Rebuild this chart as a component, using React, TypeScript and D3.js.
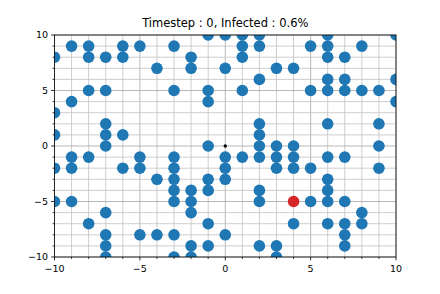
import * as d3 from "d3";
import React from "react";

// grid positions of the healthy population (blue)
const healthy: [number, number][] = [
  [-1, 10], [-9, 9], [-8, 9], [-6, 9], [-5, 9], [-3, 9], [-10, 8], [-8, 8], [-7, 8], [-6, 8], [-2, 8],
  [-4, 7], [-2, 7], [-8, 5], [-7, 5], [-3, 5], [-1, 5], [-9, 4], [-1, 4], [-10, 3], [-7, 2],
  [-10, 1], [-7, 1], [-6, 1],
  [0, 10], [1, 10], [2, 10], [6, 10], [10, 10], [1, 9], [2, 9], [5, 9], [6, 9], [8, 9],
  [1, 8], [6, 8], [7, 8], [0, 7], [3, 7], [4, 7], [2, 6], [6, 6], [7, 6], [10, 6],
  [1, 5], [5, 5], [6, 5], [7, 5], [8, 5], [9, 5], [10, 4], [2, 2], [6, 2], [9, 2], [2, 1],
  [-7, 0], [-1, 0], [-9, -1], [-8, -1], [-5, -1], [-3, -1], [-10, -2], [-9, -2], [-6, -2], [-5, -2],
  [-3, -2], [-4, -3], [-3, -3], [-1, -3], [-3, -4], [-2, -4], [-1, -4], [-10, -5], [-9, -5],
  [-3, -5], [-2, -5], [-7, -6], [-2, -6], [-8, -7], [-1, -7], [-7, -8], [-5, -8], [-4, -8],
  [-3, -8], [-7, -9], [-2, -9], [-1, -9], [-7, -10], [-3, -10], [-2, -10],
  [2, 0], [3, 0], [4, 0], [9, 0], [0, -1], [1, -1], [2, -1], [3, -1], [4, -1], [6, -1], [7, -1],
  [0, -2], [3, -2], [4, -2], [5, -2], [9, -2], [0, -3], [6, -3], [2, -4], [6, -4], [2, -5],
  [5, -5], [6, -5], [7, -5], [8, -6], [4, -7], [6, -7], [7, -7], [8, -7], [0, -8], [7, -8],
  [2, -9], [3, -9], [7, -9], [3, -10],
];
const infected: [number, number][] = [[4, -5]];
const origin: [number, number][] = [[0, 0]];

const majorTicks = [-10, -5, 0, 5, 10];
const minorTicks = d3.range(-10, 11);
const title = "Timestep : 0, Infected : 0.6%";

const W = 440;
const H = 294;
const left = 54.5, right = 396, top = 35, bottom = 257;
const font = "DejaVu Sans, sans-serif";

export default function App() {
  const x = d3.scaleLinear().domain([-10, 10]).range([left, right]);
  const y = d3.scaleLinear().domain([-10, 10]).range([bottom, top]);
  const fmt = (v: number) => (v < 0 ? "\u2212" + Math.abs(v) : String(v));
  const isMajor = (t: number) => majorTicks.includes(t);

  return (
    <svg width={W} height={H} style={{ position: "absolute", left: 0, top: 0 }}>
      <rect width={W} height={H} fill="#fff" />
      <defs>
        <clipPath id="plot">
          <rect x={left} y={top} width={right - left} height={bottom - top} />
        </clipPath>
      </defs>
      {/* grid: minor lighter, major a bit darker */}
      <g strokeWidth={0.8}>
        {minorTicks.map((t) => (
          <line key={"gx" + t} x1={x(t)} x2={x(t)} y1={top} y2={bottom} stroke={isMajor(t) ? "#a6a6a6" : "#c2c2c2"} />
        ))}
        {minorTicks.map((t) => (
          <line key={"gy" + t} x1={left} x2={right} y1={y(t)} y2={y(t)} stroke={isMajor(t) ? "#a6a6a6" : "#c2c2c2"} />
        ))}
      </g>
      {/* points */}
      <g clipPath="url(#plot)">
        {healthy.map((d, i) => (
          <circle key={"h" + i} cx={x(d[0])} cy={y(d[1])} r={5.8} fill="#1f77b4" />
        ))}
        {infected.map((d, i) => (
          <circle key={"i" + i} cx={x(d[0])} cy={y(d[1])} r={5.8} fill="#d62728" />
        ))}
        {origin.map((d, i) => (
          <circle key={"o" + i} cx={x(d[0])} cy={y(d[1])} r={1.7} fill="#000" />
        ))}
      </g>
      {/* frame */}
      <rect x={left} y={top} width={right - left} height={bottom - top} fill="none" stroke="#000" strokeWidth={0.8} />
      {/* ticks */}
      <g stroke="#000" strokeWidth={0.8}>
        {minorTicks.map((t) => (
          <line key={"tx" + t} x1={x(t)} x2={x(t)} y1={bottom} y2={bottom + (isMajor(t) ? 3.4 : 1.9)} />
        ))}
        {minorTicks.map((t) => (
          <line key={"ty" + t} x1={left} x2={left - (isMajor(t) ? 3.4 : 1.9)} y1={y(t)} y2={y(t)} />
        ))}
      </g>
      <g fontFamily={font} fontSize={9.5} fill="#000">
        {majorTicks.map((t) => (
          <text key={"lx" + t} x={x(t)} y={bottom + 14.5} textAnchor="middle">{fmt(t)}</text>
        ))}
        {majorTicks.map((t) => (
          <text key={"ly" + t} x={left - 6.5} y={y(t) + 3.4} textAnchor="end">{fmt(t)}</text>
        ))}
      </g>
      <text x={(left + right) / 2} y={26.8} textAnchor="middle" fontFamily={font} fontSize={11.5}>{title}</text>
    </svg>
  );
}
